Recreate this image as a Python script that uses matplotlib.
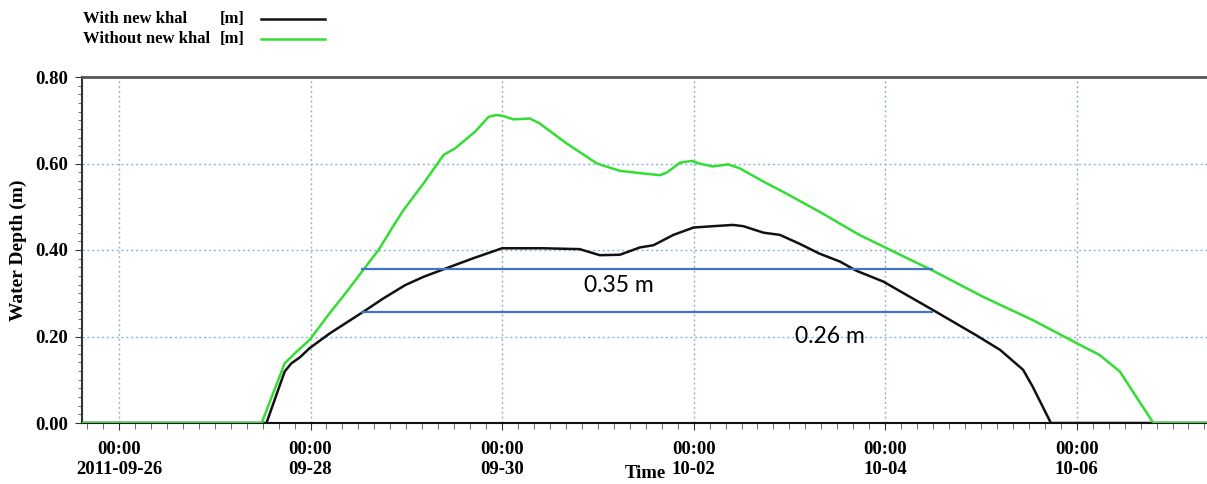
import matplotlib
matplotlib.use('Agg')
import matplotlib.pyplot as plt
import matplotlib.dates as mdates
from matplotlib.lines import Line2D
from matplotlib.ticker import MultipleLocator
import pandas as pd

# days after 2011-09-26 00:00 and water depth (m)
green_days = [-0.39, 1.49, 1.73, 1.855, 1.99, 2.20, 2.38, 2.55, 2.71, 2.86, 2.97, 3.18, 3.39, 3.51,
              3.72, 3.86, 3.94, 4.01, 4.12, 4.29, 4.39, 4.67, 4.99, 5.23, 5.47, 5.65, 5.72, 5.86,
              5.98, 6.06, 6.20, 6.36, 6.48, 6.73, 6.93, 7.31, 7.73, 7.98, 8.50, 9.02, 9.54, 9.97,
              10.24, 10.45, 10.62, 10.80, 11.4]
green_depth = [0, 0, 0.138, 0.165, 0.192, 0.254, 0.304, 0.354, 0.40, 0.454, 0.492, 0.554, 0.62, 0.635,
               0.674, 0.708, 0.712, 0.71, 0.702, 0.704, 0.693, 0.647, 0.60, 0.583, 0.577, 0.573, 0.579,
               0.602, 0.606, 0.60, 0.593, 0.598, 0.589, 0.558, 0.535, 0.489, 0.435, 0.408, 0.352,
               0.292, 0.238, 0.188, 0.157, 0.119, 0.061, 0, 0]

black_days = [-0.39, 1.54, 1.73, 1.80, 1.89, 1.99, 2.20, 2.55, 2.76, 2.99, 3.18, 3.42, 3.70, 4.00,
              4.43, 4.81, 5.02, 5.23, 5.44, 5.58, 5.79, 6.00, 6.20, 6.41, 6.52, 6.73, 6.90, 7.11,
              7.31, 7.53, 7.70, 7.98, 8.50, 8.95, 9.20, 9.44, 9.54, 9.73, 11.4]
black_depth = [0, 0, 0.119, 0.138, 0.152, 0.173, 0.207, 0.257, 0.288, 0.319, 0.338, 0.358, 0.381,
               0.404, 0.404, 0.402, 0.388, 0.389, 0.406, 0.411, 0.435, 0.452, 0.455, 0.458, 0.455,
               0.44, 0.435, 0.414, 0.392, 0.373, 0.352, 0.327, 0.261, 0.203, 0.169, 0.123, 0.084,
               0, 0]

# annotation levels
level_values = [0.355, 0.256]
level_labels = ['0.35 m', '0.26 m']
level_start_day = 2.53
level_end_day = 8.50

tick_dates = ['2011-09-26', '2011-09-28', '2011-09-30', '2011-10-02', '2011-10-04', '2011-10-06']
tick_labels = ['00:00\n2011-09-26', '00:00\n09-28', '00:00\n09-30',
               '00:00\n10-02', '00:00\n10-04', '00:00\n10-06']

legend_names = ['With new khal', 'Without new khal']

start = pd.Timestamp('2011-09-26')


def to_time(days):
    return start + pd.to_timedelta(days, unit='D')


serif = 'Liberation Serif'
green = '#33dd33'
black = '#111111'

fig = plt.figure(figsize=(12.07, 4.84), dpi=100)
ax = fig.add_axes([82 / 1207, 61 / 484, 1 - 82 / 1207, 346 / 484])

ax.plot(to_time(black_days), black_depth, color=black, lw=1.8, zorder=3)
ax.plot(to_time(green_days), green_depth, color=green, lw=1.8, zorder=4)

for val in level_values:
    ax.hlines(val, to_time(level_start_day), to_time(level_end_day), color='#4472c4', lw=1.6, zorder=5)
ax.text(to_time(4.86), 0.319, level_labels[0], fontsize=16.5, family='Lato', va='center', ha='left')
ax.text(to_time(7.06), 0.201, level_labels[1], fontsize=16.5, family='Lato', va='center', ha='left')

ax.set_xlim(to_time(-0.386), to_time(11.36))
ax.set_ylim(0, 0.8)

ax.set_xticks(pd.to_datetime(tick_dates), tick_labels)
ax.xaxis.set_minor_locator(mdates.HourLocator(byhour=[0, 4, 8, 12, 16, 20]))
ax.set_yticks([0, 0.2, 0.4, 0.6, 0.8], ['0.00', '0.20', '0.40', '0.60', '0.80'])
ax.yaxis.set_minor_locator(MultipleLocator(0.02))

for lab in ax.get_xticklabels() + ax.get_yticklabels():
    lab.set_family(serif)
    lab.set_fontweight('bold')
    lab.set_fontsize(13.5)
for lab in ax.get_xticklabels():
    lab.set_linespacing(1.2)

ax.tick_params(axis='x', which='major', length=5, pad=8, color='#333333')
ax.tick_params(axis='x', which='minor', length=4, color='#555555')
ax.tick_params(axis='y', which='major', length=5, pad=5, color='#333333')
ax.tick_params(axis='y', which='minor', length=3, color='#555555')

ax.grid(True, which='major', color='#8db6d2', linestyle=(0, (1.5, 2)), lw=1)

ax.spines['right'].set_visible(False)
ax.spines['top'].set_color('#555555')
ax.spines['top'].set_linewidth(2)
ax.spines['left'].set_color('#333333')
ax.spines['left'].set_linewidth(1.5)
ax.spines['bottom'].set_color('#111111')
ax.spines['bottom'].set_linewidth(1.5)

ax.set_ylabel('Water Depth (m)', family=serif, fontweight='bold', fontsize=14, labelpad=6)
fig.text(645 / 1207, 1 - 474 / 484, 'Time', family=serif, fontweight='bold', fontsize=13.5,
         ha='center', va='center')

# legend at the top
for name, col, ypix in zip(legend_names, [black, green], [19, 39]):
    yf = 1 - ypix / 484
    fig.text(83 / 1207, yf, name, family=serif, fontweight='bold', fontsize=12,
             va='center', ha='left')
    fig.text(220 / 1207, yf, '[m]', family=serif, fontweight='bold', fontsize=12,
             va='center', ha='left')
    fig.add_artist(Line2D([261 / 1207, 325 / 1207], [yf, yf], color=col, lw=1.8))

fig.savefig('out.png', dpi=100)
